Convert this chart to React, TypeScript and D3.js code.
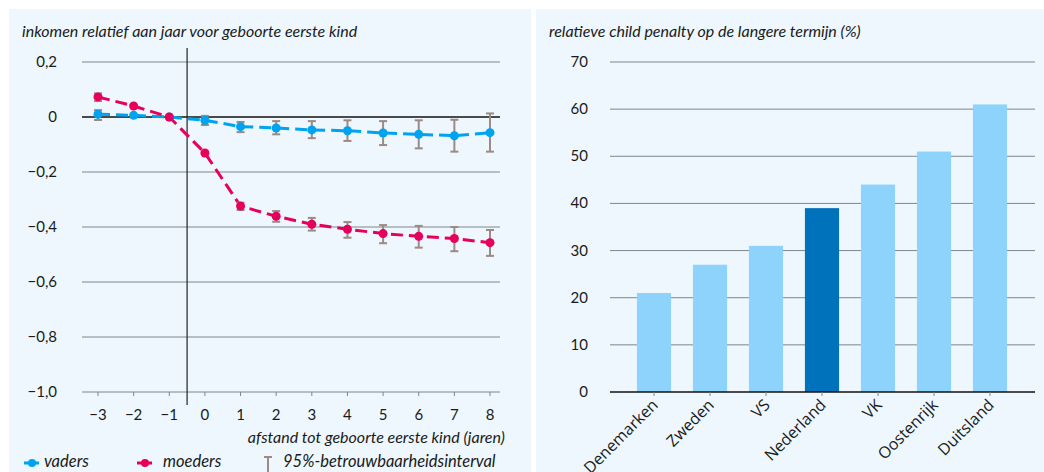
import React, { useEffect, useRef } from 'react';
import * as d3 from 'd3';

// ------- Data -------
const years = [-3, -2, -1, 0, 1, 2, 3, 4, 5, 6, 7, 8];
const vaders = [0.01, 0.006, 0, -0.012, -0.035, -0.04, -0.047, -0.05, -0.058, -0.063, -0.068, -0.057];
const vadersLo = [-0.011, null, null, -0.029, -0.055, -0.063, -0.077, -0.087, -0.102, -0.114, -0.126, -0.126];
const vadersHi = [0.025, null, null, 0.004, -0.018, -0.015, -0.015, -0.012, -0.015, -0.012, -0.01, 0.013];
const moeders = [0.073, 0.04, 0, -0.131, -0.324, -0.361, -0.39, -0.408, -0.424, -0.434, -0.442, -0.457];
const moedersLo = [0.058, null, null, null, -0.338, -0.381, -0.413, -0.439, -0.459, -0.475, -0.488, -0.505];
const moedersHi = [0.086, null, null, null, -0.312, -0.342, -0.367, -0.382, -0.393, -0.396, -0.4, -0.411];
const yTicksLeft = [0.2, 0, -0.2, -0.4, -0.6, -0.8, -1.0];

const countries = ['Denemarken', 'Zweden', 'VS', 'Nederland', 'VK', 'Oostenrijk', 'Duitsland'];
const penalty = [21, 27, 31, 39, 44, 51, 61];
const yTicksRight = [0, 10, 20, 30, 40, 50, 60, 70];

const BLUE = '#00a3ee';
const PINK = '#e6005c';
const ERR = '#9c8a84';
const GRID = '#7d878c';
const BG = '#edf7fd';
const FONT = 'Lato, "Open Sans", sans-serif';
const LABEL_FONT = '"Open Sans", sans-serif';

const fmt = (v: number) => {
  if (v === 0) return '0';
  const s = Math.abs(v).toFixed(1).replace('.', ',');
  return v < 0 ? '\u2212' + s : s;
};

export default function App() {
  const ref = useRef<SVGSVGElement>(null);

  useEffect(() => {
    if (!ref.current) return;
    const svg = d3.select(ref.current);
    svg.selectAll('*').remove();

    // ------- Panels -------
    svg.append('rect').attr('x', 9).attr('y', 9).attr('width', 522).attr('height', 470).attr('fill', BG);
    svg.append('rect').attr('x', 536).attr('y', 9).attr('width', 520).attr('height', 470).attr('fill', BG);

    // ================= Left chart =================
    const x = d3.scaleLinear().domain([-3, 8]).range([98, 490]);
    const y = d3.scaleLinear().domain([-1, 0.2]).range([392, 62]);
    const gL = svg.append('g');

    gL.append('text')
      .attr('x', 22).attr('y', 37)
      .attr('font-family', FONT).attr('font-style', 'italic').attr('font-size', 16).attr('fill', '#1a1a1a')
      .text('inkomen relatief aan jaar voor geboorte eerste kind');

    // grid
    gL.selectAll('line.grid')
      .data(yTicksLeft)
      .enter()
      .append('line')
      .attr('x1', 82).attr('x2', 500)
      .attr('y1', (d) => y(d)).attr('y2', (d) => y(d))
      .attr('stroke', (d) => (d === 0 ? '#111' : GRID))
      .attr('stroke-width', (d) => (d === 0 ? 1.5 : 1));

    gL.selectAll('text.ytick')
      .data(yTicksLeft)
      .enter()
      .append('text')
      .attr('x', 57).attr('y', (d) => y(d) + 5)
      .attr('text-anchor', 'end')
      .attr('font-family', FONT).attr('font-size', 15).attr('fill', '#1a1a1a')
      .text((d) => fmt(d));

    // x ticks
    gL.selectAll('line.xtick')
      .data(years)
      .enter()
      .append('line')
      .attr('x1', (d) => x(d)).attr('x2', (d) => x(d))
      .attr('y1', y(-1)).attr('y2', y(-1) + 4)
      .attr('stroke', GRID);

    gL.selectAll('text.xtick')
      .data(years)
      .enter()
      .append('text')
      .attr('x', (d) => x(d)).attr('y', 420)
      .attr('text-anchor', 'middle')
      .attr('font-family', FONT).attr('font-size', 15).attr('fill', '#1a1a1a')
      .text((d) => (d < 0 ? '\u2212' + Math.abs(d) : String(d)));

    gL.append('text')
      .attr('x', 505).attr('y', 443)
      .attr('text-anchor', 'end')
      .attr('font-family', FONT).attr('font-style', 'italic').attr('font-size', 16).attr('fill', '#1a1a1a')
      .text('afstand tot geboorte eerste kind (jaren)');

    // vertical line at birth
    gL.append('line')
      .attr('x1', x(-0.5)).attr('x2', x(-0.5))
      .attr('y1', 48).attr('y2', 405)
      .attr('stroke', '#222').attr('stroke-width', 1.2);

    const series = [
      { vals: vaders, lo: vadersLo, hi: vadersHi, color: BLUE },
      { vals: moeders, lo: moedersLo, hi: moedersHi, color: PINK },
    ];

    const line = d3
      .line<number>()
      .x((_, i) => x(years[i]))
      .y((d) => y(d));

    series.forEach((s) => {
      gL.append('path')
        .datum(s.vals)
        .attr('fill', 'none')
        .attr('stroke', s.color)
        .attr('stroke-width', 3)
        .attr('stroke-dasharray', '12,6')
        .attr('d', line);
    });

    // error bars
    series.forEach((s) => {
      years.forEach((yr, i) => {
        const lo = s.lo[i];
        const hi = s.hi[i];
        if (lo == null || hi == null) return;
        const cx = x(yr);
        const g = gL.append('g').attr('stroke', ERR).attr('stroke-width', 2);
        g.append('line').attr('x1', cx).attr('x2', cx).attr('y1', y(hi)).attr('y2', y(lo));
        g.append('line').attr('x1', cx - 4).attr('x2', cx + 4).attr('y1', y(hi)).attr('y2', y(hi));
        g.append('line').attr('x1', cx - 4).attr('x2', cx + 4).attr('y1', y(lo)).attr('y2', y(lo));
      });
    });

    series.forEach((s) => {
      gL.selectAll(null)
        .data(s.vals)
        .enter()
        .append('circle')
        .attr('cx', (_, i) => x(years[i]))
        .attr('cy', (d) => y(d))
        .attr('r', 4.5)
        .attr('fill', s.color);
    });

    // legend
    const legend = gL.append('g').attr('font-family', FONT).attr('font-style', 'italic').attr('font-size', 16.5).attr('fill', '#1a1a1a');
    const legItems = [
      { label: 'vaders', color: BLUE, x: 24, tx: 44 },
      { label: 'moeders', color: PINK, x: 137, tx: 163 },
    ];
    legItems.forEach((l) => {
      legend.append('line').attr('x1', l.x).attr('x2', l.x + 15).attr('y1', 463).attr('y2', 463).attr('stroke', l.color).attr('stroke-width', 3);
      legend.append('circle').attr('cx', l.x + 8).attr('cy', 463).attr('r', 4).attr('fill', l.color);
      legend.append('text').attr('x', l.tx).attr('y', 467).text(l.label);
    });
    const eg = legend.append('g').attr('stroke', ERR).attr('stroke-width', 2);
    eg.append('line').attr('x1', 268).attr('x2', 268).attr('y1', 457).attr('y2', 472);
    eg.append('line').attr('x1', 264).attr('x2', 272).attr('y1', 457).attr('y2', 457);
    legend.append('text').attr('x', 283).attr('y', 467).text('95%-betrouwbaarheidsinterval');

    // ================= Right chart =================
    const xb = d3.scaleBand<string>().domain(countries).range([626, 1018]).paddingInner(0.39).paddingOuter(0.195);
    const yb = d3.scaleLinear().domain([0, 70]).range([392, 62]);
    const gR = svg.append('g');

    gR.append('text')
      .attr('x', 549).attr('y', 37)
      .attr('font-family', FONT).attr('font-style', 'italic').attr('font-size', 16).attr('fill', '#1a1a1a')
      .text('relatieve child penalty op de langere termijn (%)');

    gR.selectAll('line.grid')
      .data(yTicksRight.filter((d) => d !== 0))
      .enter()
      .append('line')
      .attr('x1', 610).attr('x2', 1035)
      .attr('y1', (d) => yb(d)).attr('y2', (d) => yb(d))
      .attr('stroke', GRID);

    gR.selectAll('text.ytick')
      .data(yTicksRight)
      .enter()
      .append('text')
      .attr('x', 588).attr('y', (d) => yb(d) + 5)
      .attr('text-anchor', 'end')
      .attr('font-family', FONT).attr('font-size', 15).attr('fill', '#1a1a1a')
      .text((d) => String(d));

    gR.selectAll('rect.bar')
      .data(penalty)
      .enter()
      .append('rect')
      .attr('x', (_, i) => xb(countries[i])!)
      .attr('width', xb.bandwidth())
      .attr('y', (d) => yb(d))
      .attr('height', (d) => yb(0) - yb(d))
      .attr('fill', (_, i) => (countries[i] === 'Nederland' ? '#0072bc' : '#8dd3fc'));

    gR.append('line')
      .attr('x1', 610).attr('x2', 1035)
      .attr('y1', yb(0)).attr('y2', yb(0))
      .attr('stroke', '#111').attr('stroke-width', 1.5);

    gR.selectAll('line.xtick')
      .data(countries)
      .enter()
      .append('line')
      .attr('x1', (d) => xb(d)! + xb.bandwidth() / 2)
      .attr('x2', (d) => xb(d)! + xb.bandwidth() / 2)
      .attr('y1', yb(0)).attr('y2', yb(0) + 4)
      .attr('stroke', GRID);

    gR.selectAll('text.xlab')
      .data(countries)
      .enter()
      .append('text')
      .attr('transform', (d) => `translate(${xb(d)! + xb.bandwidth() / 2 + 5},${yb(0) + 14}) rotate(-45)`)
      .attr('text-anchor', 'end')
      .attr('font-family', LABEL_FONT).attr('font-size', 16).attr('fill', '#1a1a1a')
      .text((d) => d);
  }, []);

  return (
    <svg
      ref={ref}
      width={1044}
      height={472}
      style={{ position: 'absolute', left: 0, top: 0, display: 'block', background: '#fff' }}
    />
  );
}
